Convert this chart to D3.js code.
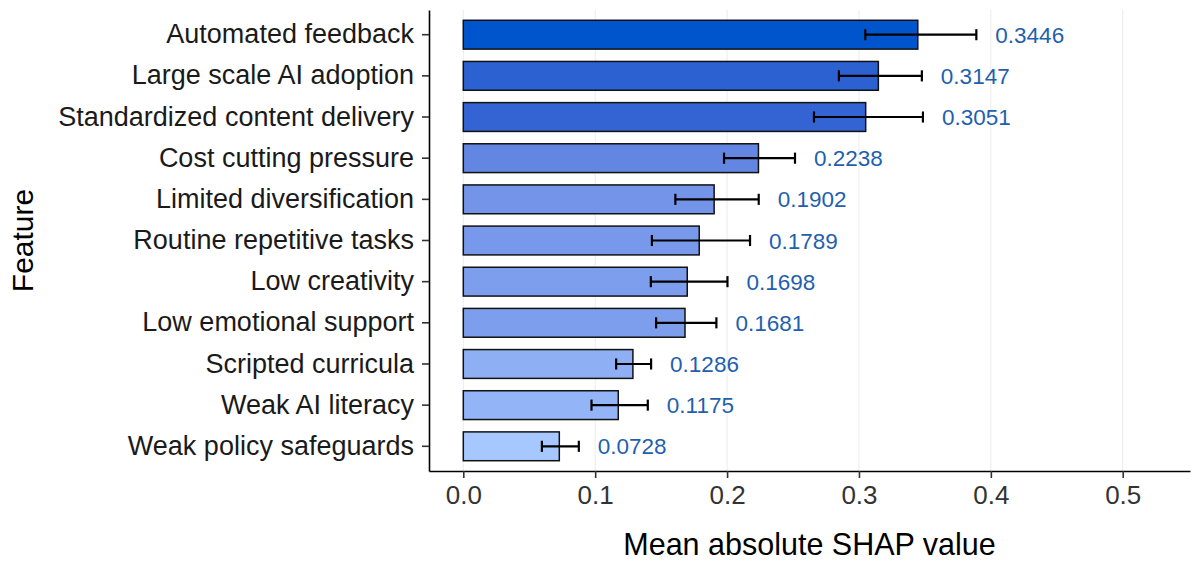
<!DOCTYPE html>
<html>
<head>
<meta charset="utf-8">
<script src="https://cdn.jsdelivr.net/npm/d3@7/dist/d3.min.js"></script>
<style>
  body { margin: 0; background: #fff; }
  svg text { font-family: "Liberation Sans", Arial, sans-serif; }
</style>
</head>
<body>
<svg id="chart" width="1199" height="563"></svg>
<script>
const features = [
  "Automated feedback", "Large scale AI adoption", "Standardized content delivery",
  "Cost cutting pressure", "Limited diversification", "Routine repetitive tasks",
  "Low creativity", "Low emotional support", "Scripted curricula",
  "Weak AI literacy", "Weak policy safeguards"
];
const meanShap = [0.3446, 0.3147, 0.3051, 0.2238, 0.1902, 0.1789, 0.1698, 0.1681, 0.1286, 0.1175, 0.0728];
const errLow = [0.3048, 0.2848, 0.2659, 0.1977, 0.1608, 0.1430, 0.1422, 0.1462, 0.1159, 0.0972, 0.0596];
const errHigh = [0.3890, 0.3477, 0.3485, 0.2515, 0.2240, 0.2174, 0.2003, 0.1919, 0.1424, 0.1399, 0.0876];
const xTicks = [0.0, 0.1, 0.2, 0.3, 0.4, 0.5];

const data = features.map((f, i) => ({
  feature: f, value: meanShap[i], lo: errLow[i], hi: errHigh[i]
}));

const svg = d3.select("#chart");
const plot = { left: 429, right: 1190, top: 10, bottom: 471 };

const x = d3.scaleLinear()
  .domain([-0.026, 0.551])
  .range([plot.left, plot.right]);

const y = d3.scaleBand()
  .domain(features)
  .range([plot.top, plot.bottom])
  .paddingInner(0.3)
  .paddingOuter(0.25);

const fill = d3.scaleLinear()
  .domain([d3.min(meanShap), d3.max(meanShap)])
  .range(["#a6c8ff", "#0055cc"])
  .interpolate(d3.interpolateLab);

// vertical grid lines
svg.append("g")
  .selectAll("line")
  .data(xTicks)
  .join("line")
  .attr("x1", d => x(d)).attr("x2", d => x(d))
  .attr("y1", plot.top).attr("y2", plot.bottom)
  .attr("stroke", "#ebebeb")
  .attr("stroke-width", 1);

// bars
svg.append("g")
  .selectAll("rect")
  .data(data)
  .join("rect")
  .attr("x", x(0))
  .attr("y", d => y(d.feature))
  .attr("width", d => x(d.value) - x(0))
  .attr("height", y.bandwidth())
  .attr("fill", d => fill(d.value))
  .attr("stroke", "#111")
  .attr("stroke-width", 1.5);

// error bars
const capH = y.step() * 0.27;
const eb = svg.append("g")
  .selectAll("g")
  .data(data)
  .join("g")
  .attr("transform", d => `translate(0,${y(d.feature) + y.bandwidth() / 2})`)
  .attr("stroke", "#000")
  .attr("stroke-width", 2.2);
eb.append("line")
  .attr("x1", d => x(d.lo)).attr("x2", d => x(d.hi))
  .attr("y1", 0).attr("y2", 0);
eb.append("line")
  .attr("x1", d => x(d.lo)).attr("x2", d => x(d.lo))
  .attr("y1", -capH / 2).attr("y2", capH / 2);
eb.append("line")
  .attr("x1", d => x(d.hi)).attr("x2", d => x(d.hi))
  .attr("y1", -capH / 2).attr("y2", capH / 2);

// value labels
svg.append("g")
  .selectAll("text")
  .data(data)
  .join("text")
  .attr("x", d => x(d.hi) + 19)
  .attr("y", d => y(d.feature) + y.bandwidth() / 2)
  .attr("dy", "0.36em")
  .attr("fill", "#1f5fae")
  .style("font-size", "22.5px")
  .text(d => d.value.toFixed(4));

// axes
const xAxis = svg.append("g")
  .attr("transform", `translate(0,${plot.bottom})`)
  .call(d3.axisBottom(x).tickValues(xTicks).tickFormat(d3.format(".1f")).tickSize(7).tickPadding(8).tickSizeOuter(0));
xAxis.select(".domain").attr("stroke", "#000").attr("stroke-width", 1.6);
xAxis.selectAll(".tick line").attr("stroke", "#333").attr("stroke-width", 1.6);
xAxis.selectAll(".tick text").attr("fill", "#333").style("font-size", "26px")
  .style("font-family", "Liberation Sans, Arial, sans-serif");

const yAxis = svg.append("g")
  .attr("transform", `translate(${plot.left},0)`)
  .call(d3.axisLeft(y).tickSize(7).tickPadding(8).tickSizeOuter(0));
yAxis.select(".domain").attr("stroke", "#000").attr("stroke-width", 1.6);
yAxis.selectAll(".tick line").attr("stroke", "#333").attr("stroke-width", 1.6);
yAxis.selectAll(".tick text").attr("fill", "#1a1a1a").style("font-size", "27px")
  .style("font-family", "Liberation Sans, Arial, sans-serif");

// axis titles
svg.append("text")
  .attr("x", (plot.left + plot.right) / 2)
  .attr("y", 555)
  .attr("text-anchor", "middle")
  .attr("fill", "#000")
  .style("font-size", "30.5px")
  .text("Mean absolute SHAP value");

svg.append("text")
  .attr("transform", `translate(33,${(plot.top + plot.bottom) / 2}) rotate(-90)`)
  .attr("text-anchor", "middle")
  .attr("fill", "#000")
  .style("font-size", "30px")
  .text("Feature");
</script>
</body>
</html>
